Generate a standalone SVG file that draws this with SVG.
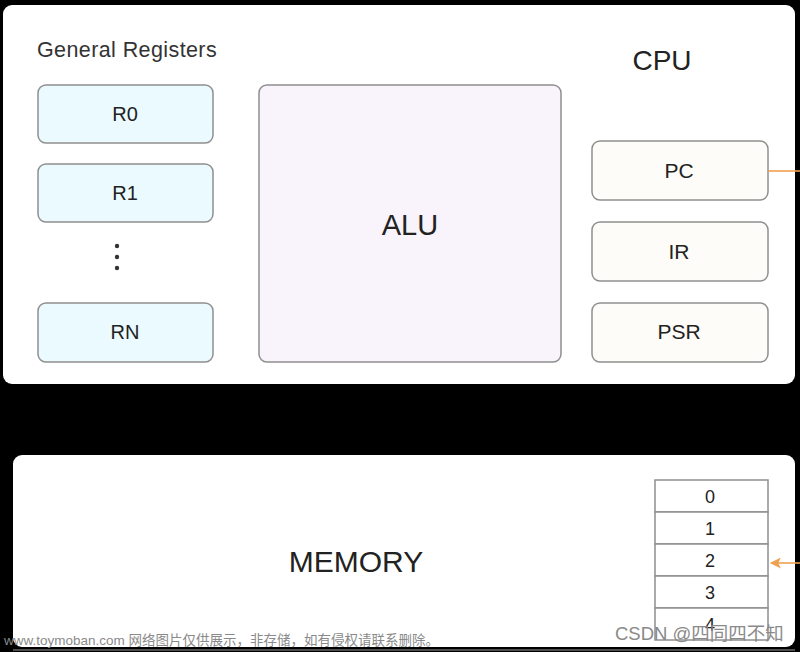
<svg xmlns="http://www.w3.org/2000/svg" width="800" height="652" viewBox="0 0 800 652">
<defs>
<style>
.t{font-family:"Liberation Sans",Arial,sans-serif;fill:#222;text-anchor:middle}
.reg{fill:#ebfaff;stroke:#8f8f8f;stroke-width:1.5}
.spr{fill:#fdfcf8;stroke:#8f8f8f;stroke-width:1.5}
.cell{fill:#ffffff;stroke:#8f8f8f;stroke-width:1.5}
.wm{font-family:"Liberation Sans","Noto Sans CJK SC",sans-serif;fill:#8a8a8a}
</style>
<marker id="ah" viewBox="0 0 10 10" refX="9" refY="5" markerWidth="14" markerHeight="11" markerUnits="userSpaceOnUse" orient="auto">
<path d="M0,0 L10,5 L0,10 L2.5,5 Z" fill="#efa150"/>
</marker>
</defs>
<rect x="0" y="0" width="800" height="652" fill="#000"/>
<g id="cpu">
<rect x="3" y="5" width="792" height="379" rx="9" fill="#fff"/>
<text x="37" y="57" font-size="21.5" font-family="Liberation Sans,Arial,sans-serif" fill="#333" letter-spacing="0.4">General Registers</text>
<text class="t" x="662" y="70" font-size="28">CPU</text>
</g>
<g id="r0"><rect class="reg" x="38" y="85" width="175" height="58" rx="8"/><text class="t" x="125" y="121" font-size="20">R0</text></g>
<g id="r1"><rect class="reg" x="38" y="164" width="175" height="58" rx="8"/><text class="t" x="125" y="200" font-size="20">R1</text></g>
<g id="dots" fill="#333"><circle cx="117" cy="246" r="2.2"/><circle cx="117" cy="257" r="2.2"/><circle cx="117" cy="268" r="2.2"/></g>
<g id="rn"><rect class="reg" x="38" y="303" width="175" height="59" rx="8"/><text class="t" x="125" y="339" font-size="20">RN</text></g>
<g id="alu"><rect x="259" y="85" width="302" height="277" rx="8" fill="#f9f3fb" stroke="#8f8f8f" stroke-width="1.5"/><text class="t" x="410" y="235" font-size="29">ALU</text></g>
<g id="pc"><rect class="spr" x="592" y="141" width="176" height="59" rx="8"/><text class="t" x="679" y="178" font-size="21">PC</text></g>
<g id="ir"><rect class="spr" x="592" y="222" width="176" height="59" rx="8"/><text class="t" x="679" y="259" font-size="21">IR</text></g>
<g id="psr"><rect class="spr" x="592" y="303" width="176" height="59" rx="8"/><text class="t" x="679" y="339" font-size="21">PSR</text></g>
<g id="memory">
<rect x="13" y="455" width="782" height="192" rx="9" fill="#fff"/>
<line x1="13" y1="650" x2="795" y2="650" stroke="#9a9a9a" stroke-width="1"/>
<text class="t" x="356" y="572" font-size="30">MEMORY</text>
</g>
<g id="cells">
<rect class="cell" x="655" y="480" width="113" height="32"/><text class="t" x="710" y="503" font-size="18">0</text>
<rect class="cell" x="655" y="512" width="113" height="32"/><text class="t" x="710" y="535" font-size="18">1</text>
<rect class="cell" x="655" y="544" width="113" height="32"/><text class="t" x="710" y="567" font-size="18">2</text>
<rect class="cell" x="655" y="576" width="113" height="32"/><text class="t" x="710" y="599" font-size="18">3</text>
<rect class="cell" x="655" y="608" width="113" height="32"/><text class="t" x="710" y="631" font-size="18">4</text>
</g>
<g id="connectors" stroke="#efa150" stroke-width="1.6" fill="none">
<line x1="768" y1="171" x2="800" y2="171"/>
<line x1="800" y1="563" x2="771" y2="563" marker-end="url(#ah)"/>
</g>
<text class="wm" x="4" y="645" font-size="13.5">www.toymoban.com 网络图片仅供展示，非存储，如有侵权请联系删除。</text>
<text class="wm" x="615" y="640" font-size="18.5" fill="#777">CSDN @四同四不知</text>
</svg>
